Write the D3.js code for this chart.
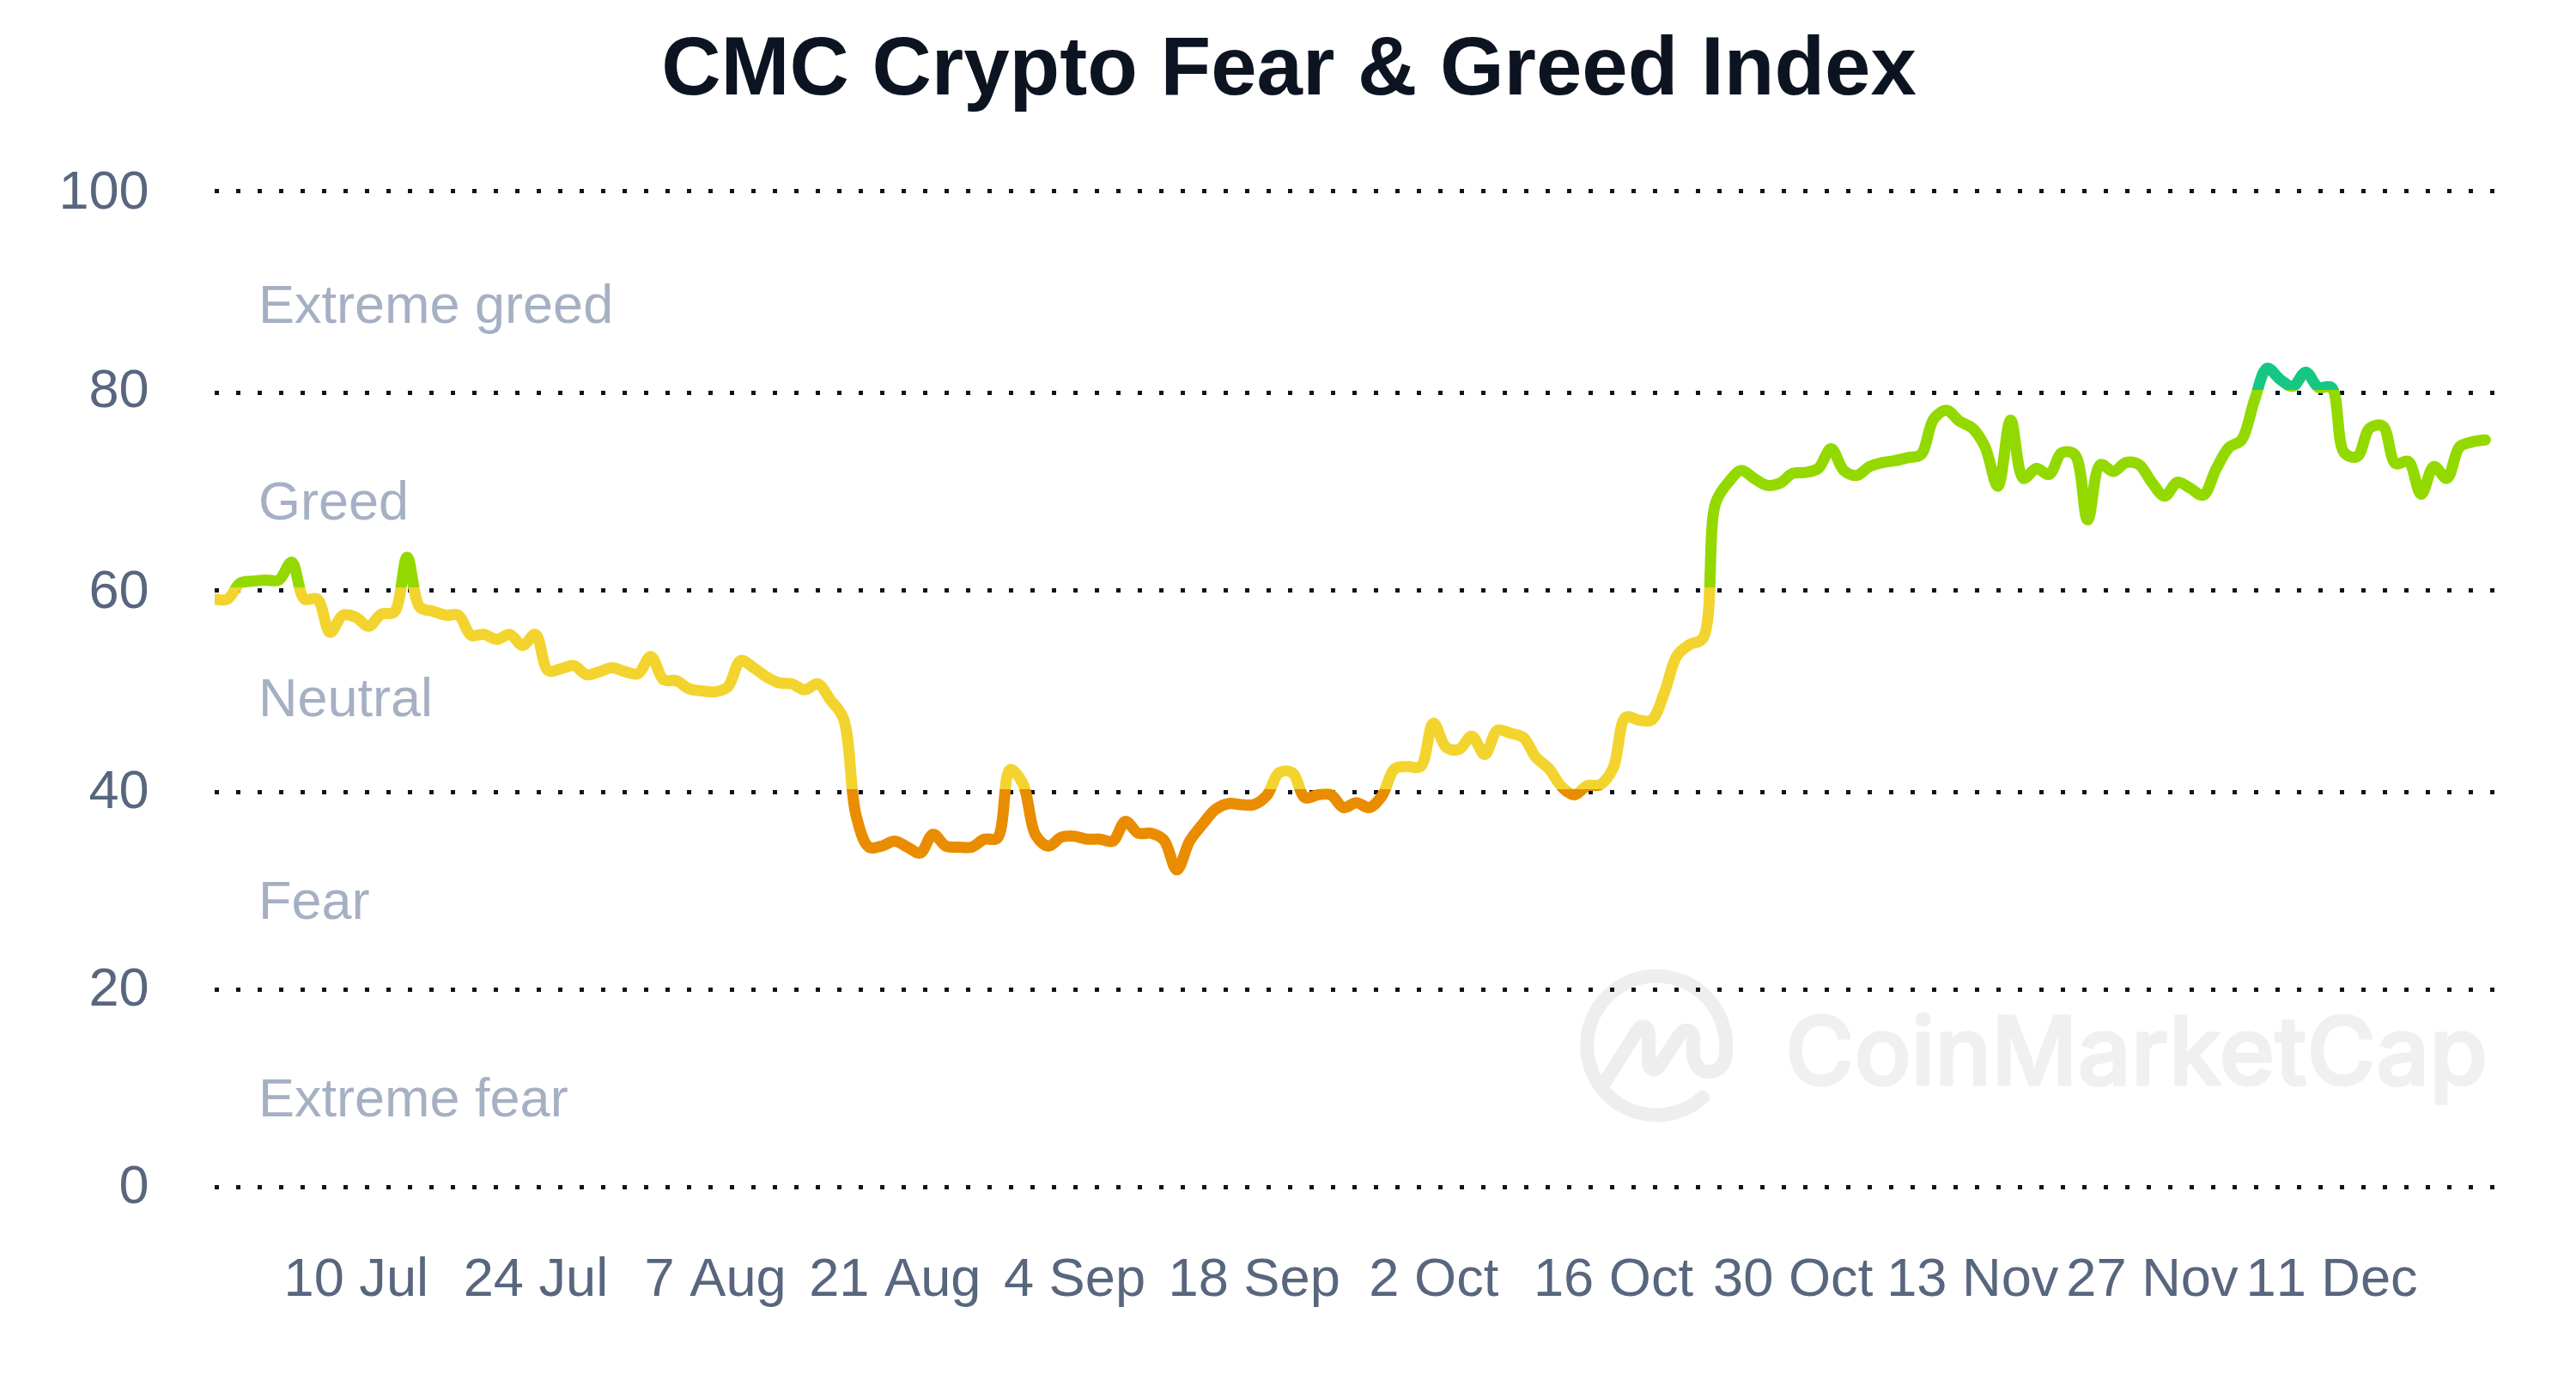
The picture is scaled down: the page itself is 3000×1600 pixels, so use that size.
<!DOCTYPE html>
<html>
<head>
<meta charset="utf-8">
<script src="https://cdn.jsdelivr.net/npm/d3@7"></script>
<style>
  html, body { margin: 0; padding: 0; background: #fff; }
  text { font-family: "Liberation Sans", Arial, sans-serif; }
</style>
</head>
<body>
<svg id="chart" width="3000" height="1600"></svg>
<script>
// Daily index values, one per day from the start date.
var startDate = Date.UTC(2023, 5, 29);
var fearGreed = [
  59.1, 59.1, 60.7, 60.9, 61.0, 61.0, 62.8, 59.1, 59.1, 55.8, 57.5, 57.3, 56.4, 57.6, 57.8, 63.3,
  58.3, 57.9, 57.5, 57.5, 55.5, 55.6, 55.1, 55.6, 54.5, 55.6, 52.0, 52.2, 52.5, 51.6, 51.9, 52.3,
  51.9, 51.7, 53.4, 51.1, 51.0, 50.2, 50.0, 49.9, 50.4, 53.0, 52.3, 51.4, 50.8, 50.7, 50.1, 50.7,
  49.1, 47.3, 37.6, 34.4, 34.5, 35.0, 34.4, 33.8, 35.7, 34.5, 34.4, 34.4, 35.2, 35.3, 42.2, 40.8,
  35.6, 34.5, 35.4, 35.5, 35.2, 35.2, 35.0, 37.0, 35.8, 35.8, 35.1, 32.1, 35.0, 36.7, 38.2, 38.8,
  38.7, 38.7, 39.6, 41.9, 41.9, 39.4, 39.7, 39.7, 38.4, 38.9, 38.4, 39.6, 42.3, 42.5, 42.5, 46.8,
  44.4, 44.2, 45.5, 43.7, 46.1, 45.8, 45.4, 43.4, 42.3, 40.5, 39.7, 40.6, 40.7, 42.3, 47.4, 47.1,
  47.1, 49.8, 53.5, 54.6, 55.2, 68.8, 70.9, 72.1, 71.3, 70.6, 70.8, 71.8, 71.9, 72.3, 74.3, 72.1,
  71.6, 72.5, 72.9, 73.1, 73.4, 73.7, 77.3, 78.2, 77.1, 76.4, 74.5, 70.5, 77.2, 71.3, 72.3, 71.7,
  73.9, 73.7, 67.1, 72.7, 72.0, 72.9, 72.7, 70.9, 69.5, 70.9, 70.3, 69.6, 72.2, 74.4, 75.2, 79.2,
  82.4, 81.3, 80.6, 82.0, 80.5, 80.5, 73.9, 73.5, 76.4, 76.6, 72.8, 73.0, 69.7, 72.5, 71.3, 74.5,
  75.0, 75.2
];

var yTicks = [0, 20, 40, 60, 80, 100];
var xTickDates = [
  [6, 10], [6, 24], [7, 7], [7, 21], [8, 4], [8, 18], [9, 2],
  [9, 16], [9, 30], [10, 13], [10, 27], [11, 11]
];
var zoneNames = ["Extreme greed", "Greed", "Neutral", "Fear", "Extreme fear"];
var zoneMids = [90, 70, 50, 30, 10];
var zoneColors = ["#16c784", "#93d900", "#f3d42f", "#ea8c00", "#ea3943"];
var zoneTops = [100, 80, 60, 40, 20];

var DAY = 86400000;
var dates = fearGreed.map((v, i) => new Date(startDate + i * DAY));

var svg = d3.select("#chart");

// grid rows in the source are not quite even, so the scale goes through each one
var y = d3.scaleLinear().domain([0, 20, 40, 60, 80, 100]).range([1382, 1152, 922, 687, 457, 222]);
var x = d3.scaleUtc().domain([dates[0], dates[dates.length - 1]]).range([250, 2894.4]);
// the tick numbers and zone names sit on their own rows
var yLabelRow = d3.scaleLinear().domain([0, 20, 40, 60, 80, 100]).range([1380, 1150, 920, 687, 453, 222]);
var zoneRow = d3.scaleLinear().domain([10, 30, 50, 70, 90]).range([1300, 1070, 834, 605, 375.5]);

// Watermark goes under the grid
var mark = svg.append("g").attr("fill", "none").attr("stroke", "#eeeeee").attr("transform", "translate(0,2)");
mark.append("path")
  .attr("d", "M1983,1276 A81,81 0 1 1 2010,1221 C2010,1238 2002,1246 1990,1246 C1979,1246 1972,1238 1972,1222 L1972,1208 C1972,1196 1961,1195 1956,1203 L1933,1238 C1927,1247 1920,1245 1920,1232 L1920,1205 C1920,1192 1912,1190 1907,1198 L1868,1260")
  .attr("stroke-width", 16)
  .attr("stroke-linecap", "round")
  .attr("stroke-linejoin", "round");
svg.append("text")
  .attr("x", 2079).attr("y", 1263)
  .attr("textLength", 818)
  .attr("lengthAdjust", "spacingAndGlyphs")
  .style("font-family", "Inter")
  .style("font-size", "110px")
  .style("font-weight", 500)
  .attr("fill", "#f0f0f0")
  .attr("stroke", "#f0f0f0")
  .attr("stroke-width", 3)
  .attr("stroke-linejoin", "round")
  .text("CoinMarketCap");

// Title
svg.append("text")
  .attr("x", 1501).attr("y", 110)
  .attr("text-anchor", "middle")
  .style("font-size", "96px")
  .style("font-weight", 700)
  .attr("fill", "#0d1421")
  .text("CMC Crypto Fear & Greed Index");

// Y axis with dotted grid lines
var yAxis = d3.axisLeft(y).tickValues(yTicks).tickSize(-2655).tickPadding(76.5);
var yG = svg.append("g").attr("transform", "translate(250,0)").call(yAxis);
yG.select(".domain").remove();
yG.selectAll("line")
  .attr("stroke", "#0d1421")
  .attr("stroke-width", 5)
  .attr("stroke-dasharray", "5 20");
yG.selectAll("text")
  .attr("y", d => yLabelRow(d) - y(d))
  .style("font-size", "63px")
  .attr("fill", "#58667e");

// X axis
var xAxis = d3.axisBottom(x)
  .tickValues(xTickDates.map(d => new Date(Date.UTC(2023, d[0], d[1]))))
  .tickFormat(d3.utcFormat("%-d %b"))
  .tickSize(0)
  .tickPadding(82);
var xG = svg.append("g").attr("transform", "translate(0,1382)").call(xAxis);
xG.select(".domain").remove();
xG.selectAll("text")
  .style("font-size", "63.2px")
  .style("font-kerning", "none")
  .attr("fill", "#58667e");

// Zone names
svg.selectAll(".zone").data(zoneNames).enter().append("text")
  .attr("class", "zone")
  .attr("x", 301)
  .attr("y", (d, i) => zoneRow(zoneMids[i]))
  .style("font-size", "63px")
  .attr("fill", "#a6b0c3")
  .text(d => d);

// Line colour changes sharply at each zone edge
var grad = svg.append("defs").append("linearGradient")
  .attr("id", "zones")
  .attr("gradientUnits", "userSpaceOnUse")
  .attr("x1", 0).attr("x2", 0)
  .attr("y1", y(100)).attr("y2", y(0));
var gradSpan = y(0) - y(100);
zoneTops.forEach((top, i) => {
  var from = i == 0 ? 0 : (y(top) - 2.7 - y(100)) / gradSpan;
  var to = i == zoneTops.length - 1 ? 1 : (y(zoneTops[i + 1]) - 2.7 - y(100)) / gradSpan;
  grad.append("stop").attr("offset", from).attr("stop-color", zoneColors[i]);
  grad.append("stop").attr("offset", to).attr("stop-color", zoneColors[i]);
});

svg.select("defs").append("clipPath").attr("id", "plot")
  .append("rect").attr("x", 250).attr("y", 200).attr("width", 2700).attr("height", 1200);

var line = d3.line()
  .x((d, i) => x(dates[i]))
  .y(d => y(d))
  .curve(d3.curveCatmullRom.alpha(0.5));

svg.append("path")
  .datum(fearGreed)
  .attr("d", line)
  .attr("clip-path", "url(#plot)")
  .attr("fill", "none")
  .attr("stroke", "url(#zones)")
  .attr("stroke-width", 13)
  .attr("stroke-linecap", "round")
  .attr("stroke-linejoin", "round");
</script>
</body>
</html>
